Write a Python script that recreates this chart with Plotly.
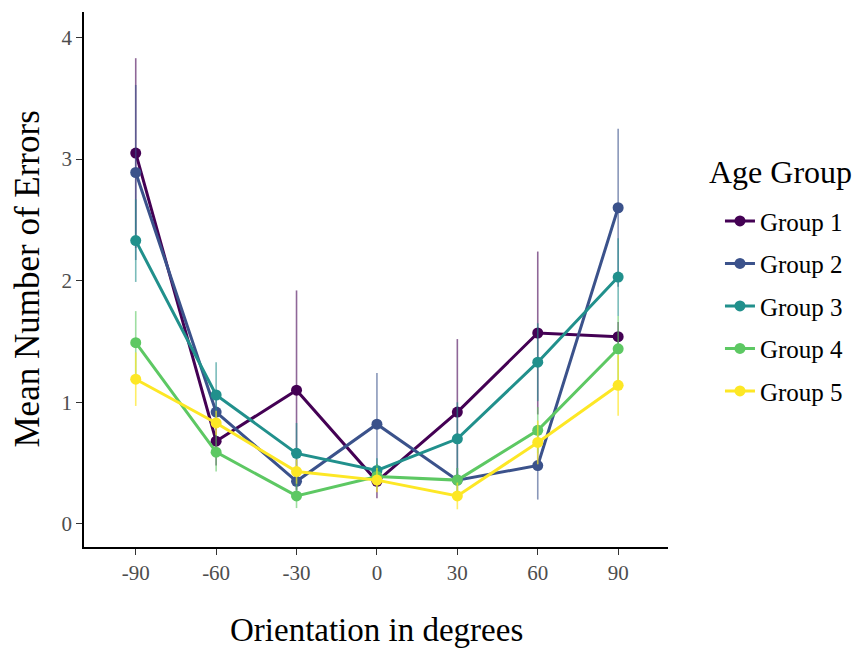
import plotly.graph_objects as go

orientation = [-90, -60, -30, 0, 30, 60, 90]
tick_labels = ["-90", "-60", "-30", "0", "30", "60", "90"]
group_names = ["Group 1", "Group 2", "Group 3", "Group 4", "Group 5"]

g1 = [3.05, 0.68, 1.10, 0.35, 0.92, 1.57, 1.54]
g1_err = [0.78, 0.20, 0.82, 0.14, 0.60, 0.67, 0.12]
g2 = [2.89, 0.92, 0.35, 0.82, 0.36, 0.48, 2.60]
g2_err = [0.72, 0.15, 0.10, 0.42, 0.10, 0.28, 0.65]
g3 = [2.33, 1.06, 0.58, 0.44, 0.70, 1.33, 2.03]
g3_err = [0.34, 0.27, 0.25, 0.10, 0.30, 0.32, 0.32]
g4 = [1.49, 0.59, 0.23, 0.39, 0.36, 0.77, 1.44]
g4_err = [0.26, 0.16, 0.10, 0.10, 0.10, 0.19, 0.27]
g5 = [1.19, 0.83, 0.43, 0.36, 0.23, 0.67, 1.14]
g5_err = [0.22, 0.10, 0.10, 0.10, 0.11, 0.18, 0.25]

colors = ["#440154", "#3B528B", "#21908C", "#5DC863", "#FDE725"]
err_colors = ["rgba(68,1,84,0.6)", "rgba(59,82,139,0.6)", "rgba(33,144,140,0.6)",
              "rgba(93,200,99,0.6)", "rgba(253,231,37,0.7)"]

series = [g1, g2, g3, g4, g5]
errors = [g1_err, g2_err, g3_err, g4_err, g5_err]

FONT = "Liberation Serif, Times New Roman, serif"

fig = go.Figure()
for name, vals, errs, c, ec in zip(group_names, series, errors, colors, err_colors):
    fig.add_trace(go.Scatter(
        x=orientation, y=vals, name=name, mode="lines+markers",
        legendgroup=name,
        line=dict(color=c, width=3),
        marker=dict(color=c, size=11),
        error_y=dict(type="data", array=errs, visible=True, color=ec,
                     thickness=1.6, width=0),
    ))

fig.update_layout(
    width=862, height=648,
    margin=dict(l=76, r=202, t=4, b=109, autoexpand=False),
    plot_bgcolor="white", paper_bgcolor="white",
    font=dict(family=FONT, color="black"),
    showlegend=True,
    legend=dict(
        font=dict(family=FONT, size=25, color="black"),
        x=1.089, xanchor="left", y=0.652, yanchor="top",
        tracegroupgap=7, itemwidth=30,
        bgcolor="rgba(0,0,0,0)",
    ),
    xaxis=dict(
        range=[-109.3, 108.6], automargin=False,
        tickmode="array", tickvals=orientation, ticktext=tick_labels,
        showgrid=False, zeroline=False,
        showline=True, linecolor="black", linewidth=1.5,
        ticks="outside", ticklen=6, tickcolor="#333333", tickwidth=1,
        tickfont=dict(family=FONT, size=21, color="#4d4d4d"),
    ),
    yaxis=dict(
        range=[-0.19, 4.21], automargin=False,
        tickmode="array", tickvals=[0, 1, 2, 3, 4],
        showgrid=False, zeroline=False,
        showline=True, linecolor="black", linewidth=1.5,
        ticks="outside", ticklen=6, tickcolor="#333333", tickwidth=1,
        tickfont=dict(family=FONT, size=21, color="#4d4d4d"),
    ),
    annotations=[
        dict(text="Orientation in degrees", xref="paper", yref="paper",
             x=0.5, y=-0.155, xanchor="center", yanchor="middle", showarrow=False,
             font=dict(family=FONT, size=33, color="black")),
        dict(text="Mean Number of Errors", xref="paper", yref="paper",
             x=-0.0976, y=0.5, xanchor="center", yanchor="middle", showarrow=False,
             textangle=-90, font=dict(family=FONT, size=35, color="black")),
        dict(text="Age Group", xref="paper", yref="paper",
             x=1.066, y=0.701, xanchor="left", yanchor="middle", showarrow=False,
             font=dict(family=FONT, size=32, color="black")),
    ],
)

fig.write_html("out.html")
